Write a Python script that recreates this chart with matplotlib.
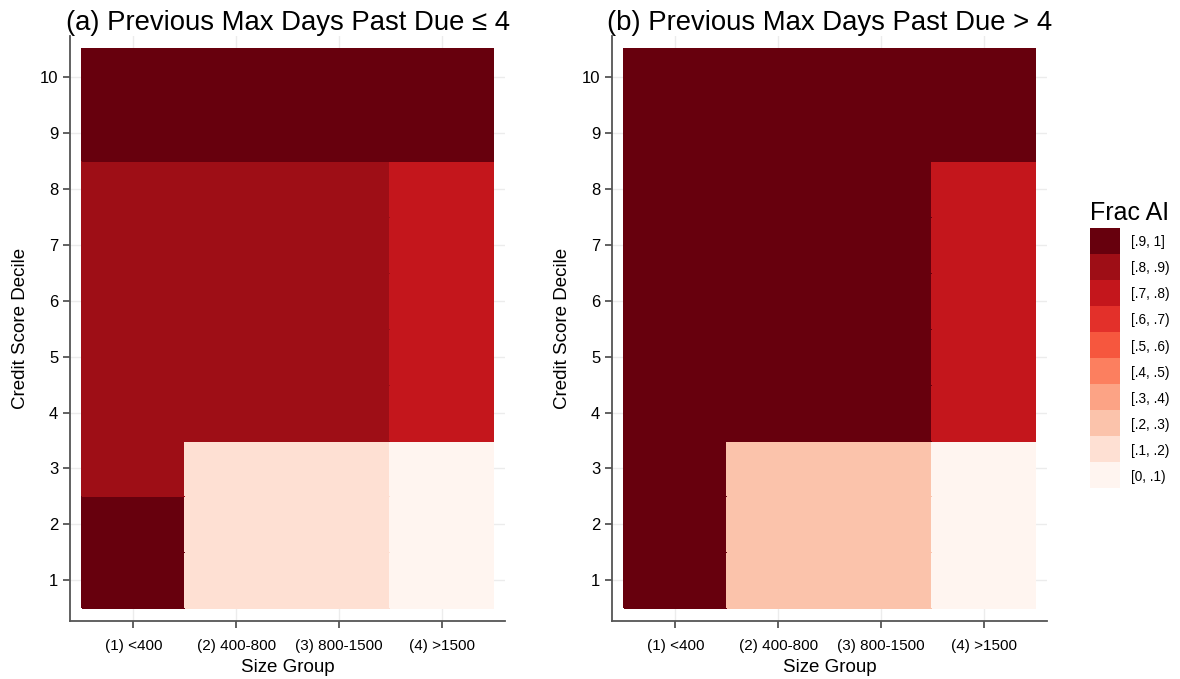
import matplotlib
matplotlib.use("Agg")
import matplotlib.pyplot as plt
import numpy as np
from matplotlib.colors import ListedColormap, BoundaryNorm

plt.rcParams['font.family'] = ['Liberation Sans', 'DejaVu Sans']

size_groups = ["(1) <400", "(2) 400-800", "(3) 800-1500", "(4) >1500"]
deciles = [1, 2, 3, 4, 5, 6, 7, 8, 9, 10]

# Fraction AI per decile (rows, 1..10) and size group (columns)
frac_low = [  # Previous max DPD <= 4
    [0.95, 0.15, 0.15, 0.05],
    [0.95, 0.15, 0.15, 0.05],
    [0.85, 0.15, 0.15, 0.05],
    [0.85, 0.85, 0.85, 0.75],
    [0.85, 0.85, 0.85, 0.75],
    [0.85, 0.85, 0.85, 0.75],
    [0.85, 0.85, 0.85, 0.75],
    [0.85, 0.85, 0.85, 0.75],
    [0.95, 0.95, 0.95, 0.95],
    [0.95, 0.95, 0.95, 0.95],
]
frac_high = [  # Previous max DPD > 4
    [0.95, 0.25, 0.25, 0.05],
    [0.95, 0.25, 0.25, 0.05],
    [0.95, 0.25, 0.25, 0.05],
    [0.95, 0.95, 0.95, 0.75],
    [0.95, 0.95, 0.95, 0.75],
    [0.95, 0.95, 0.95, 0.75],
    [0.95, 0.95, 0.95, 0.75],
    [0.95, 0.95, 0.95, 0.75],
    [0.95, 0.95, 0.95, 0.95],
    [0.95, 0.95, 0.95, 0.95],
]
titles = ["(a) Previous Max Days Past Due \u2264 4", "(b) Previous Max Days Past Due > 4"]

bin_edges = [0, .1, .2, .3, .4, .5, .6, .7, .8, .9, 1.0001]
bin_labels = ["[0, .1)", "[.1, .2)", "[.2, .3)", "[.3, .4)", "[.4, .5)",
              "[.5, .6)", "[.6, .7)", "[.7, .8)", "[.8, .9)", "[.9, 1]"]
bin_colors = ["#fff5f0", "#fee0d3", "#fbc3ab", "#fca385", "#fc7f5f",
              "#f6573e", "#e3302a", "#c4161c", "#9e0e16", "#67000d"]

cmap = ListedColormap(bin_colors)
norm = BoundaryNorm(bin_edges, cmap.N)

fig = plt.figure(figsize=(11.8, 6.79), dpi=100)
W, H = 1180, 679
axes_px = [(70, 505), (612, 1047)]
top_px, bot_px = 36, 621

spine_col = "#555555"
for (x0, x1), data, title in zip(axes_px, [frac_low, frac_high], titles):
    ax = fig.add_axes([x0 / W, 1 - bot_px / H, (x1 - x0) / W, (bot_px - top_px) / H])
    xe = np.arange(len(size_groups) + 1) + 0.5
    ye = np.arange(len(deciles) + 1) + 0.5
    ax.pcolormesh(xe, ye, np.array(data), cmap=cmap, norm=norm, zorder=2,
                  edgecolors='face', linewidth=0.3)
    ax.set_xlim(0.384, 4.617)
    ax.set_ylim(0.27, 10.74)
    ax.set_xticks(np.arange(1, len(size_groups) + 1))
    ax.set_xticklabels(size_groups, fontsize=11)
    ax.set_yticks(deciles)
    ax.set_yticklabels([str(d) for d in deciles], fontsize=12)
    ax.grid(True, color="#ececec", linewidth=1, zorder=0)
    ax.set_axisbelow(True)
    for s in ["top", "right"]:
        ax.spines[s].set_visible(False)
    for s in ["left", "bottom"]:
        ax.spines[s].set_color(spine_col)
        ax.spines[s].set_linewidth(1.3)
    ax.tick_params(axis='both', colors=spine_col, labelcolor="black", length=5, width=1.3)
    ax.tick_params(axis='x', pad=8)
    ax.set_xlabel("Size Group", fontsize=13.5, labelpad=4)
    ax.set_ylabel("Credit Score Decile", fontsize=13.5, labelpad=8)
    ax.set_title(title, fontsize=19.8, pad=4)

# Legend as a stacked key
lax = fig.add_axes([1090 / W, 1 - 488 / H, 30 / W, 260 / H])
pos = np.arange(len(bin_labels))
lax.barh(pos, [1] * len(bin_labels), height=1.0, color=bin_colors, left=0)
lax.set_xlim(0, 1)
lax.set_ylim(-0.5, len(bin_labels) - 0.5)
lax.set_xticks([])
lax.set_yticks(pos)
lax.set_yticklabels(bin_labels, fontsize=9.8)
lax.yaxis.tick_right()
lax.tick_params(axis='y', length=0, pad=8)
for s in lax.spines.values():
    s.set_visible(False)
lax.set_title("Frac AI", fontsize=18, loc='left', pad=6)

fig.savefig("out.png", dpi=100)
